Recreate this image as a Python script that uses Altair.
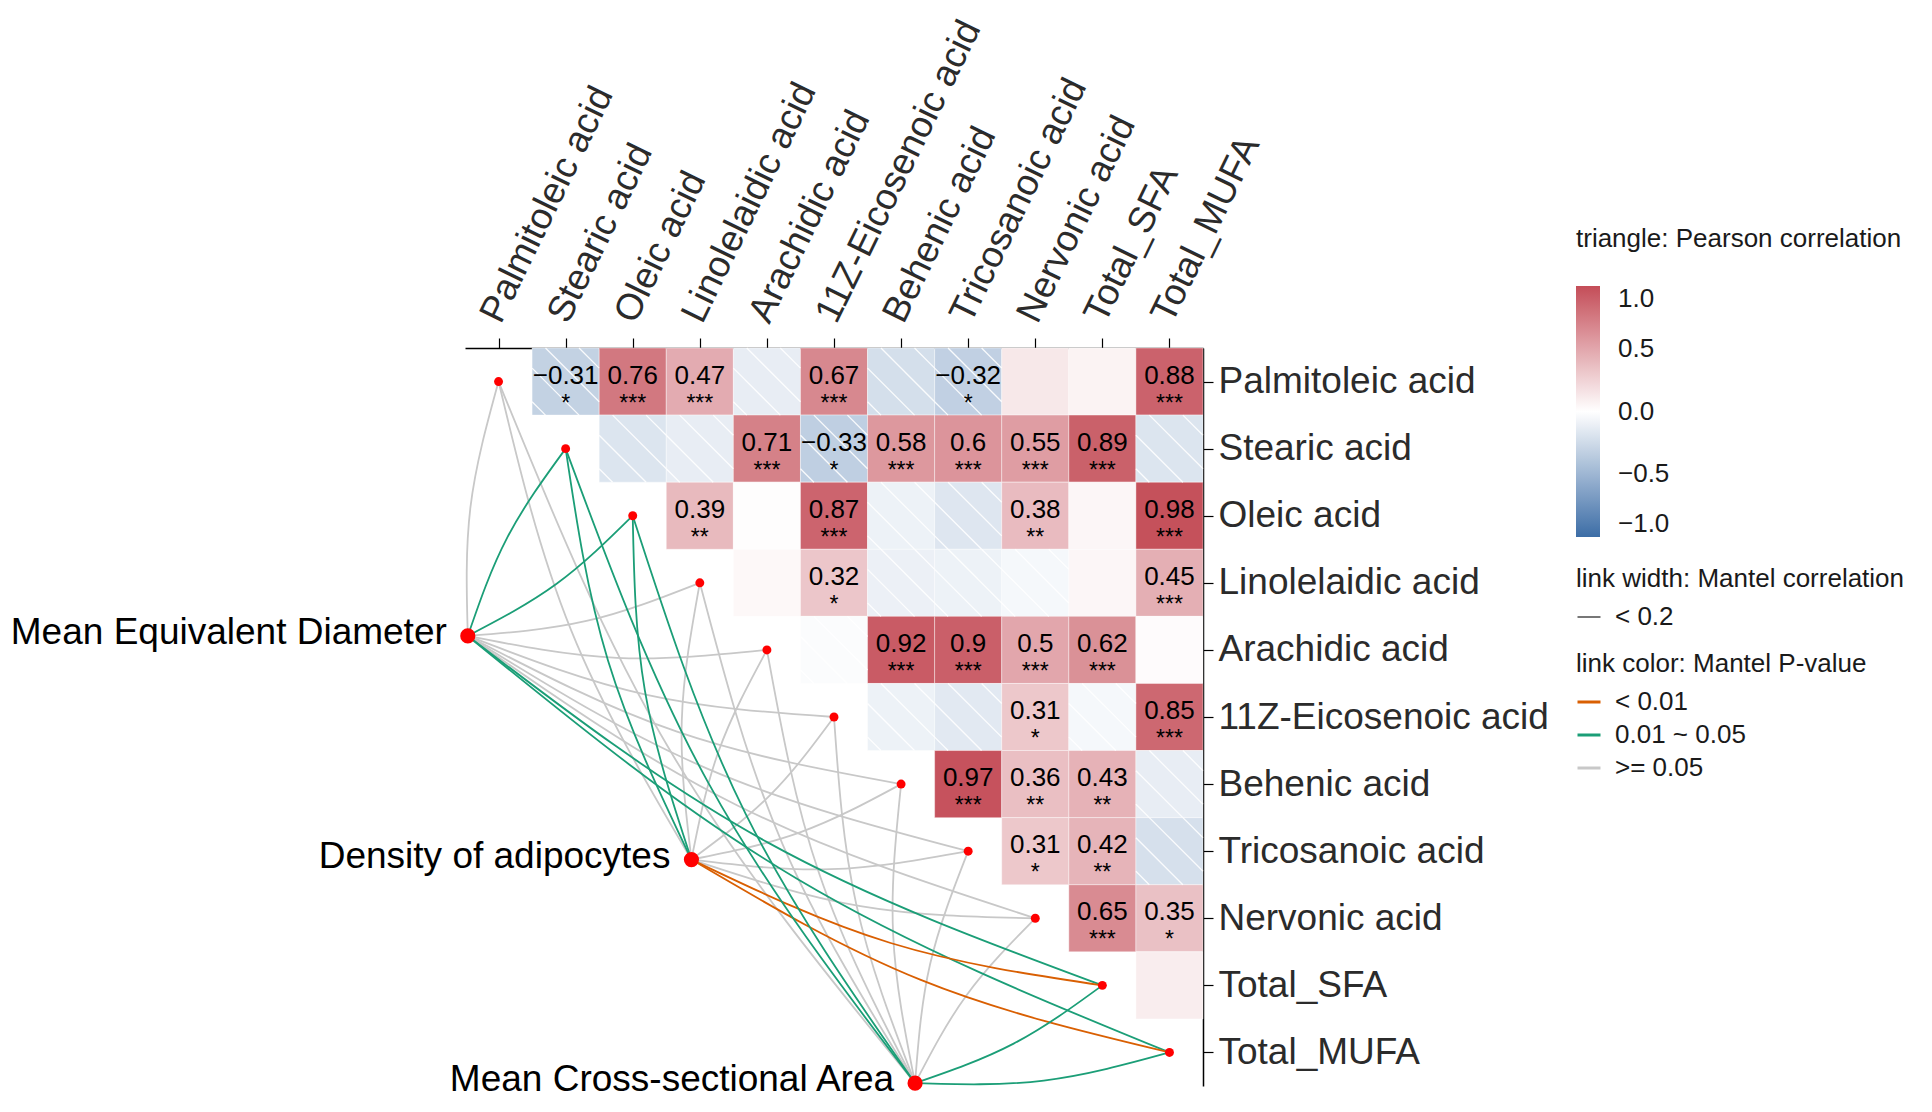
import math
import altair as alt
import pandas as pd

FONT = "Liberation Sans, Arimo, Arial, sans-serif"

# ---------------- data ----------------
species = [
    "Palmitoleic acid", "Stearic acid", "Oleic acid", "Linolelaidic acid",
    "Arachidic acid", "11Z-Eicosenoic acid", "Behenic acid", "Tricosanoic acid",
    "Nervonic acid", "Total_SFA", "Total_MUFA",
]

# upper triangle of the Pearson matrix: row i holds columns i+1 .. 10
pearson_r = [
    [-0.31, 0.76, 0.47, -0.12, 0.67, -0.22, -0.32, 0.13, 0.07, 0.88],
    [-0.18, -0.12, 0.71, -0.33, 0.58, 0.60, 0.55, 0.89, -0.18],
    [0.39, 0.01, 0.87, -0.09, -0.17, 0.38, 0.05, 0.98],
    [0.04, 0.32, -0.10, -0.09, -0.05, 0.05, 0.45],
    [-0.02, 0.92, 0.90, 0.50, 0.62, 0.02],
    [-0.09, -0.15, 0.31, -0.05, 0.85],
    [0.97, 0.36, 0.43, -0.12],
    [0.31, 0.42, -0.21],
    [0.65, 0.35],
    [0.10],
]
pearson_sig = [
    ["*", "***", "***", "", "***", "", "*", "", "", "***"],
    ["", "", "***", "*", "***", "***", "***", "***", ""],
    ["**", "", "***", "", "", "**", "", "***"],
    ["", "*", "", "", "", "", "***"],
    ["", "***", "***", "***", "***", ""],
    ["", "", "*", "", "***"],
    ["***", "**", "**", ""],
    ["*", "**", ""],
    ["***", "*"],
    [""],
]

env_names = ["Mean Equivalent Diameter", "Density of adipocytes", "Mean Cross-sectional Area"]

p_levels = ["< 0.01", "0.01 ~ 0.05", ">= 0.05"]
p_colors = ["#D95F02", "#1B9E77", "#C8C8C8"]
r_levels = ["< 0.2"]

mantel_p_class = [
    [">= 0.05", "0.01 ~ 0.05", "0.01 ~ 0.05", ">= 0.05", ">= 0.05", ">= 0.05",
     ">= 0.05", ">= 0.05", ">= 0.05", "0.01 ~ 0.05", "0.01 ~ 0.05"],
    [">= 0.05", "0.01 ~ 0.05", "0.01 ~ 0.05", ">= 0.05", ">= 0.05", ">= 0.05",
     ">= 0.05", ">= 0.05", ">= 0.05", "< 0.01", "< 0.01"],
    [">= 0.05", "0.01 ~ 0.05", "0.01 ~ 0.05", ">= 0.05", ">= 0.05", ">= 0.05",
     ">= 0.05", ">= 0.05", ">= 0.05", "0.01 ~ 0.05", "0.01 ~ 0.05"],
]
mantel_r_class = [
    ["< 0.2"] * 11,
    ["< 0.2"] * 11,
    ["< 0.2"] * 11,
]

# ---------------- layout helpers ----------------
n = len(species)
ENV_OFFSET = 2.125      # distance of env nodes from the diagonal (cell units, along x and y)
CURVATURE = 0.1

cells = []
hatch = []
HATCH_OFFS = [0.2, 0.7, -0.3, -0.8]
for i, row in enumerate(pearson_r):
    for k, v in enumerate(row):
        j = i + 1 + k
        cells.append(dict(i=i, j=j, r=v, sig=pearson_sig[i][k],
                          x0=j - 0.5, x1=j + 0.5, y0=i - 0.5, y1=i + 0.5))
        if v < 0:
            for c in HATCH_OFFS:
                xa, ya = max(c, 0.0), max(-c, 0.0)
                xb, yb = min(1.0, 1.0 + c), min(1.0, 1.0 - c)
                hatch.append(dict(xa=j - 0.5 + xa, ya=i - 0.5 + ya,
                                  xb=j - 0.5 + xb, yb=i - 0.5 + yb))
cell_df = pd.DataFrame(cells)
hatch_df = pd.DataFrame(hatch)

spec_df = pd.DataFrame(dict(name=species, x=list(range(n)), y=list(range(n))))

env_rows = []
link_rows = []
for k, env in enumerate(env_names):
    t = (n - 1) * (k + 0.5) / len(env_names)
    ex, ey = t - ENV_OFFSET, t + ENV_OFFSET
    env_rows.append(dict(name=env, x=ex, y=ey))
    for i in range(n):
        sx, sy = float(i), float(i)
        dx, dy = sx - ex, sy - ey
        L = math.hypot(dx, dy)
        if i < t:
            nx, ny = dy / L, -dx / L
        else:
            nx, ny = -dy / L, dx / L
        h = CURVATURE * L / 2
        mx, my = (ex + sx) / 2 + nx * h, (ey + sy) / 2 + ny * h
        for s, (px, py) in enumerate([(ex, ey), (mx, my), (sx, sy)]):
            link_rows.append(dict(link=f"{k}-{i}", seq=s, x=px, y=py,
                                  p=mantel_p_class[k][i], w=mantel_r_class[k][i]))
env_df = pd.DataFrame(env_rows)
link_df = pd.DataFrame(link_rows)

# ---------------- scales & axes ----------------
xs = alt.Scale(domain=[-0.5, n - 0.5], nice=False, zero=False)
ys = alt.Scale(domain=[-0.5, n - 0.5], nice=False, zero=False, reverse=True)

names_js = "[" + ",".join("'" + s + "'" for s in species) + "]"

top_axis = alt.Axis(
    orient="top", values=list(range(n)), labelExpr=names_js + "[datum.value]",
    title=None, grid=False, tickSize=10, tickColor="black", tickWidth=1.2,
    domainColor="black", domainWidth=1.5, labelAngle=-64, labelAlign="left",
    labelBaseline="bottom", labelFontSize=37, labelColor="#2b2b2b", labelFont=FONT,
    labelPadding=10, labelOffset=9, labelOverlap=False, labelLimit=600,
    labelFlush=False, labelBound=False,
)
right_axis = alt.Axis(
    orient="right", values=list(range(n)), labelExpr=names_js + "[datum.value]",
    title=None, grid=False, tickSize=10, tickColor="black", tickWidth=1.2,
    domainColor="black", domainWidth=1.5, labelAlign="left", labelBaseline="middle",
    labelFontSize=37, labelColor="#2b2b2b", labelFont=FONT, labelPadding=5,
    labelOverlap=False, labelLimit=600, labelFlush=False, labelBound=False,
)

fill_legend = alt.Legend(
    title="triangle: Pearson correlation", orient="none", legendX=1111, legendY=-122,
    direction="vertical", gradientLength=251, gradientThickness=24,
    values=[-1, -0.5, 0, 0.5, 1], format=".1f", labelFontSize=26, titleFontSize=26,
    titleFontWeight="normal", titlePadding=34, labelBaseline="middle", labelOverlap=False,
    labelOffset=18, titleColor="#1a1a1a", labelColor="#1a1a1a", titleLimit=600,
    gradientStrokeWidth=0, labelFont=FONT, titleFont=FONT,
)
stroke_legend = alt.Legend(
    title="link color: Mantel P-value", orient="none", legendX=1111, legendY=303,
    symbolType="stroke", symbolSize=529, symbolStrokeWidth=3, labelFontSize=26,
    titleFontSize=26, titleFontWeight="normal", titlePadding=12, rowPadding=7,
    labelOffset=13, titleLimit=600, labelLimit=600, titleColor="#1a1a1a",
    labelColor="#1a1a1a", labelFont=FONT, titleFont=FONT,
)
width_legend = alt.Legend(
    title="link width: Mantel correlation", orient="none", legendX=1111, legendY=218,
    symbolType="stroke", symbolSize=529, symbolStrokeColor="#555555",
    symbolStrokeWidth=1.6, labelFontSize=26,
    titleFontSize=26, titleFontWeight="normal", titlePadding=12, labelOffset=13,
    titleLimit=600, labelLimit=600, titleColor="#1a1a1a", labelColor="#1a1a1a",
    labelFont=FONT, titleFont=FONT,
)


def X(field):
    return alt.X(field, scale=xs, axis=top_axis)


def Y(field):
    return alt.Y(field, scale=ys, axis=right_axis)


# ---------------- layers ----------------
rect = alt.Chart(cell_df).mark_rect(stroke="white", strokeWidth=0.4).encode(
    x=X("x0:Q"), x2="x1:Q",
    y=Y("y0:Q"), y2="y1:Q",
    fill=alt.Fill("r:Q", scale=alt.Scale(domain=[-1, 0, 1], interpolate="rgb",
                                          range=["#3C6DA6", "#FFFFFF", "#C44D58"]),
                  legend=fill_legend),
)

hatch_layer = alt.Chart(hatch_df).mark_rule(color="white", strokeWidth=1.3, opacity=0.9).encode(
    x=X("xa:Q"), x2="xb:Q",
    y=Y("ya:Q"), y2="yb:Q",
)

val_text = alt.Chart(cell_df).transform_filter("datum.sig != ''").mark_text(
    fontSize=26, baseline="alphabetic", dy=2, color="black", font=FONT,
).encode(
    x=X("j:Q"), y=Y("i:Q"),
    text=alt.Text("r:Q", format=".2~f"),
)
sig_text = alt.Chart(cell_df).transform_filter("datum.sig != ''").mark_text(
    fontSize=23, baseline="alphabetic", dy=29, color="black", font=FONT,
).encode(
    x=X("j:Q"), y=Y("i:Q"),
    text="sig:N",
)


def link_layer(flt):
    return alt.Chart(link_df).transform_filter(flt).mark_line(
        interpolate="natural", strokeWidth=1.8,
    ).encode(
        x=X("x:Q"), y=Y("y:Q"),
        detail="link:N", order="seq:Q",
        stroke=alt.Stroke("p:N", scale=alt.Scale(domain=p_levels, range=p_colors),
                          legend=stroke_legend),
        opacity=alt.Opacity("w:N", scale=alt.Scale(domain=r_levels, range=[1]),
                            legend=width_legend),
    )


links_gray = link_layer("datum.p == '>= 0.05'")
links_col = link_layer("datum.p != '>= 0.05'")

spec_pts = alt.Chart(spec_df).mark_point(filled=True, color="#FF0000", size=80, opacity=1).encode(
    x=X("x:Q"), y=Y("y:Q"),
)
env_pts = alt.Chart(env_df).mark_point(filled=True, color="#FF0000", size=230, opacity=1).encode(
    x=X("x:Q"), y=Y("y:Q"),
)
env_lbl = alt.Chart(env_df).mark_text(
    align="right", baseline="middle", dx=-21, dy=-3, fontSize=37, color="black", font=FONT,
).encode(
    x=X("x:Q"), y=Y("y:Q"),
    text="name:N",
)

chart = alt.layer(
    rect, hatch_layer, val_text, sig_text, links_gray, links_col, spec_pts, env_pts, env_lbl,
).properties(
    width=738, height=738,
    autosize=alt.AutoSizeParams(type="none"),
    padding={"left": 457, "top": 340, "right": 700, "bottom": 17},
).configure(font=FONT).configure_view(stroke="transparent", strokeWidth=0)

chart.save("out.html", embed_options={"renderer": "svg", "actions": False})
